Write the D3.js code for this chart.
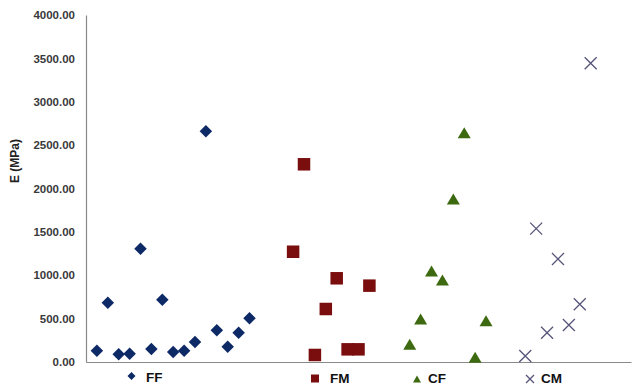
<!DOCTYPE html>
<html><head><meta charset="utf-8">
<script src="https://cdn.jsdelivr.net/npm/d3@7"></script>
<style>body{margin:0;background:#fff;}svg{display:block;}</style>
</head><body><svg id="c" width="638" height="385"></svg>
<script>
const yTicks = [0,500,1000,1500,2000,2500,3000,3500,4000];
const ffX = [1,2,3,4,5,6,7,8,9,10,11,12,13,14,15];
const ffY = [130,684,89,96,1306,150,718,115,130,231,2661,365,176,338,504];
const fmX = [19,20,21,22,23,24,25,26];
const fmY = [1271,2279,81,611,965,146,146,880];
const cfX = [29.7,30.7,31.7,32.7,33.7,34.7,35.7,36.7];
const cfY = [204,496,1049,945,1879,2643,54,476];
const cmX = [40.3,41.3,42.3,43.3,44.3,45.3,46.3];
const cmY = [69,1537,338,1187,427,665,3443];
const seriesNames = ["FF","FM","CF","CM"];

const svg = d3.select("#c");
const x = d3.scaleLinear().domain([0,50]).range([86,631]);
const y = d3.scaleLinear().domain([0,4000]).range([362,15]);

const yAxis = d3.axisLeft(y).tickValues(yTicks).tickFormat(d3.format(".2f")).tickSize(0).tickPadding(11);
const gy = svg.append("g").attr("transform","translate(86,0)").call(yAxis);
gy.select(".domain").attr("stroke","#8a8a8a").attr("stroke-width",1.2);
gy.selectAll("text").attr("font-family","Liberation Sans, Arial, sans-serif").attr("font-size","11.5px").attr("font-weight","bold").attr("fill","#3a3a3a");

const xAxis = d3.axisBottom(x).tickValues([]).tickSize(0);
const gx = svg.append("g").attr("transform","translate(0,362)").call(xAxis);
gx.select(".domain").attr("stroke","#8a8a8a").attr("stroke-width",1.2);

svg.append("text").attr("transform","translate(15,161) rotate(-90)")
  .attr("text-anchor","middle").attr("dominant-baseline","central")
  .attr("font-family","Liberation Sans, Arial, sans-serif").attr("font-size","12px").attr("font-weight","bold")
  .attr("fill","#222").text("E (MPa)");

const colors = {FF:"#0e2a66",FM:"#7a0e0e",CF:"#3d6a10",CM:"#55557a"};

function marker(g, type, cx, cy, s){
  if(type==="FF"){
    g.append("path").attr("d",`M${cx},${cy-s/2}L${cx+s/2},${cy}L${cx},${cy+s/2}L${cx-s/2},${cy}Z`).attr("fill",colors.FF);
  } else if(type==="FM"){
    g.append("rect").attr("x",cx-s/2).attr("y",cy-s/2).attr("width",s).attr("height",s).attr("fill",colors.FM);
  } else if(type==="CF"){
    const h = s*0.85;
    g.append("path").attr("d",`M${cx},${cy-h/2}L${cx+s/2},${cy+h/2}L${cx-s/2},${cy+h/2}Z`).attr("fill",colors.CF);
  } else {
    const r = s/2;
    g.append("path").attr("d",`M${cx-r},${cy-r}L${cx+r},${cy+r}M${cx+r},${cy-r}L${cx-r},${cy+r}`)
      .attr("stroke",colors.CM).attr("stroke-width",1.3).attr("fill","none");
  }
}

const plot = svg.append("g");
const all = [["FF",ffX,ffY,12.5],["FM",fmX,fmY,12.5],["CF",cfX,cfY,13],["CM",cmX,cmY,12]];
all.forEach(([n,xs,ys,s])=>{
  xs.forEach((xv,i)=>marker(plot,n,x(xv),y(ys[i]),s));
});

const leg = svg.append("g");
const legPos = [[131.5,376,146,381.5],[315,378.5,330,382.5],[417,379,428,382.5],[530,379,541,382.5]];
seriesNames.forEach((n,i)=>{
  const p = legPos[i];
  marker(leg,n,p[0],p[1],8);
  leg.append("text").attr("x",p[2]).attr("y",p[3])
    .attr("font-family","Liberation Sans, Arial, sans-serif").attr("font-size","13.5px").attr("font-weight","bold")
    .attr("fill","#111").text(n);
});
</script></body></html>
